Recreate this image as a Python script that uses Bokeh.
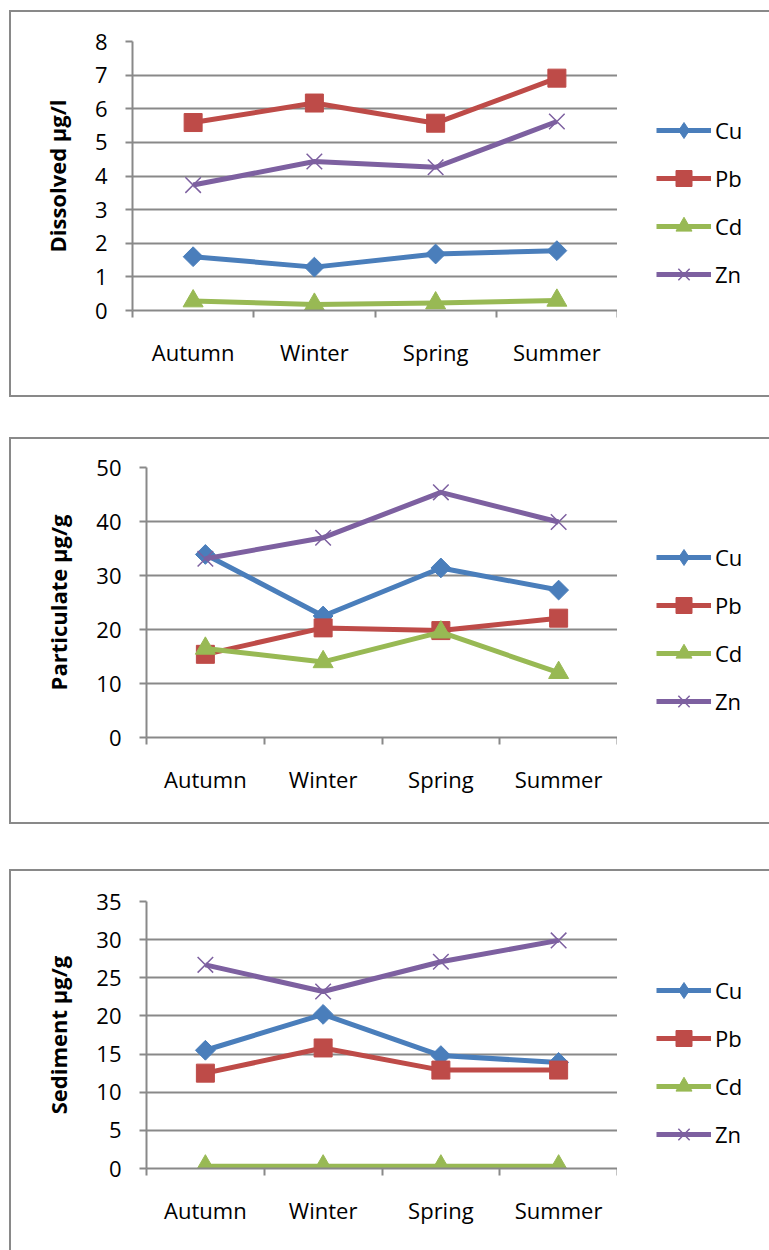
from bokeh.plotting import figure
from bokeh.models import FixedTicker, Range1d, Legend, LegendItem
from bokeh.layouts import column, row
from bokeh.embed import file_html
from bokeh.resources import INLINE
import math

# Seasonal heavy-metal concentrations
seasons = ["Autumn", "Winter", "Spring", "Summer"]
metals = ["Cu", "Pb", "Cd", "Zn"]

dissolved_cu = [1.60, 1.29, 1.68, 1.78]
dissolved_pb = [5.59, 6.17, 5.57, 6.91]
dissolved_cd = [0.28, 0.18, 0.22, 0.30]
dissolved_zn = [3.73, 4.43, 4.26, 5.62]

particulate_cu = [33.9, 22.5, 31.4, 27.3]
particulate_pb = [15.4, 20.3, 19.8, 22.1]
particulate_cd = [16.5, 14.0, 19.5, 12.0]
particulate_zn = [33.1, 37.0, 45.4, 39.9]

sediment_cu = [15.5, 20.2, 14.8, 13.9]
sediment_pb = [12.5, 15.8, 12.9, 12.9]
sediment_cd = [0.3, 0.3, 0.3, 0.3]
sediment_zn = [26.7, 23.2, 27.1, 29.9]

dissolved_ticks = [0, 1, 2, 3, 4, 5, 6, 7, 8]
particulate_ticks = [0, 10, 20, 30, 40, 50]
sediment_ticks = [0, 5, 10, 15, 20, 25, 30, 35]

COLORS = {"Cu": "#4a7ebb", "Pb": "#be4b48", "Cd": "#98b954", "Zn": "#7d60a0"}
# marker, size, angle in the plot; the legend uses its own marker shape
MARKERS = {"Cu": ("square", 14, math.pi / 4), "Pb": ("square", 18, 0),
           "Cd": ("triangle", 20, 0), "Zn": ("x", 22, 0)}
LEGEND_MARKERS = {"Cu": "diamond", "Pb": "square", "Cd": "triangle", "Zn": "x"}
GRAY = "#898989"
FONT = "Open Sans"
PAGE_W = 769
BOX_LEFT = 9      # left margin of the framed panels
BORDER = 2        # panel frame thickness
FIG_W = PAGE_W - BOX_LEFT - BORDER
PLOT_RIGHT = 606  # right edge of the plotting area inside a panel
LEGEND_X = 645    # left end of the legend lines inside a panel


def add_series(p, xs, ys, m, marker=None):
    c = COLORS[m]
    mk, size, angle = MARKERS[m]
    if marker is not None:
        mk, angle = marker, 0
    lr = p.line(xs, ys, line_color=c, line_width=5, line_join="round")
    if mk == "x":
        sr = p.scatter(xs, ys, marker="x", size=size, line_color=c, line_width=1.5)
    else:
        sr = p.scatter(xs, ys, marker=mk, size=size, angle=angle,
                       fill_color=c, line_color=c, line_width=1)
    return lr, sr


def make_panel(title, ticks, series, height, frame, legend_first):
    left, top, bottom = frame
    p = figure(width=PLOT_RIGHT, height=height,
               x_range=Range1d(-0.5, len(seasons) - 0.5),
               y_range=Range1d(ticks[0], ticks[-1]),
               output_backend="svg", toolbar_location=None,
               min_border_left=left, min_border_right=0,
               min_border_top=top, min_border_bottom=height - bottom)
    p.outline_line_color = None
    p.background_fill_color = "white"
    p.border_fill_color = "white"

    # category axis: labels at centres, tick marks between categories
    xs = list(range(len(seasons)))
    xa = p.xaxis[0]
    xa.ticker = FixedTicker(ticks=xs, minor_ticks=[i - 0.5 for i in range(len(seasons) + 1)])
    xa.major_label_overrides = {i: s for i, s in enumerate(seasons)}
    xa.major_tick_line_color = None
    xa.major_tick_out = 0
    xa.major_tick_in = 0
    xa.minor_tick_out = 7
    xa.minor_tick_in = 0
    xa.minor_tick_line_color = GRAY
    xa.minor_tick_line_width = 2
    xa.axis_line_color = GRAY
    xa.axis_line_width = 2
    xa.major_label_standoff = 19
    xa.major_label_text_font = FONT
    xa.major_label_text_font_size = "22px"
    xa.major_label_text_color = "black"

    ya = p.yaxis[0]
    ya.ticker = FixedTicker(ticks=ticks)
    ya.minor_tick_line_color = None
    ya.major_tick_out = 7
    ya.major_tick_in = 0
    ya.major_tick_line_color = GRAY
    ya.major_tick_line_width = 2
    ya.axis_line_color = GRAY
    ya.axis_line_width = 2
    ya.major_label_standoff = 18
    ya.major_label_text_font = FONT
    ya.major_label_text_font_size = "22px"
    ya.major_label_text_color = "black"
    ya.axis_label = title
    ya.axis_label_text_font = FONT
    ya.axis_label_text_font_style = "bold"
    ya.axis_label_text_font_size = "22px"
    ya.axis_label_text_color = "black"
    ya.axis_label_standoff = 20

    p.xgrid.visible = False
    p.ygrid.ticker = FixedTicker(ticks=ticks)
    p.ygrid.grid_line_color = GRAY
    p.ygrid.grid_line_width = 2

    for m in metals:
        add_series(p, xs, series[m], m)

    # legend strip to the right of the plotting area; its copies of the
    # series sit outside the strip's ranges so only the legend shows
    leg_w = FIG_W - PLOT_RIGHT
    q = figure(width=leg_w, height=height,
               x_range=Range1d(100, 101), y_range=Range1d(100, 101),
               output_backend="svg", toolbar_location=None,
               min_border_left=0, min_border_right=0,
               min_border_top=top, min_border_bottom=height - bottom)
    q.axis.visible = False
    q.grid.visible = False
    q.outline_line_color = None
    q.border_fill_color = "white"
    items = []
    for m in metals:
        lr, sr = add_series(q, xs, series[m], m, marker=LEGEND_MARKERS[m])
        items.append(LegendItem(label=m, renderers=[lr, sr]))

    n = len(items)
    gh, sp = 40, 8
    leg_h = n * gh + (n - 1) * sp
    leg_top = legend_first - gh / 2
    legend = Legend(items=items,
                    location=(LEGEND_X - PLOT_RIGHT, bottom - (leg_top + leg_h)),
                    glyph_width=55, glyph_height=gh, label_height=gh,
                    spacing=sp, padding=0, margin=0, label_standoff=4,
                    border_line_color=None, background_fill_alpha=0,
                    label_text_font=FONT, label_text_font_size="22px",
                    label_text_color="black")
    q.add_layout(legend)
    return row(p, q, spacing=0)


def framed(panel, top_gap, open_bottom=False):
    styles = {
        "border-left": f"{BORDER}px solid {GRAY}",
        "border-top": f"{BORDER}px solid {GRAY}",
        "border-bottom": "none" if open_bottom else f"{BORDER}px solid {GRAY}",
        "border-right": "none",
        "margin-left": f"{BOX_LEFT}px",
        "margin-top": f"{top_gap}px",
    }
    return column(panel, styles=styles)


p1 = make_panel("Dissolved µg/l", dissolved_ticks,
                {"Cu": dissolved_cu, "Pb": dissolved_pb, "Cd": dissolved_cd, "Zn": dissolved_zn},
                383, (121, 29, 298), 118)
p2 = make_panel("Particulate µg/g", particulate_ticks,
                {"Cu": particulate_cu, "Pb": particulate_pb, "Cd": particulate_cd, "Zn": particulate_zn},
                383, (135, 28, 298), 118)
p3 = make_panel("Sediment µg/g", sediment_ticks,
                {"Cu": sediment_cu, "Pb": sediment_pb, "Cd": sediment_cd, "Zn": sediment_zn},
                379, (135, 30, 297), 119)

panels = [framed(p1, 10), framed(p2, 40), framed(p3, 45, open_bottom=True)]
open("out.html", "w").write(file_html(panels, INLINE))
